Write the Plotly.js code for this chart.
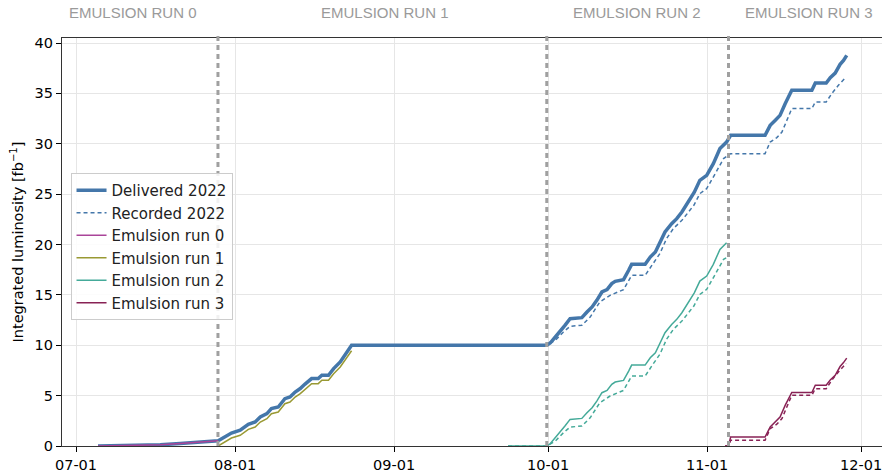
<!DOCTYPE html>
<html>
<head>
<meta charset="utf-8">
<script src="https://cdn.plot.ly/plotly-3.0.1.min.js"></script>
<style>html,body{margin:0;padding:0;background:#fff;}#chart{width:882px;height:474px;}</style>
</head>
<body>
<div id="chart"></div>
<script>
// ---- Delivered 2022 (fb^-1) ----
const deliveredDates = [
  '2022-07-05 07:00','2022-07-09 14:00','2022-07-14 00:00','2022-07-17 10:00','2022-07-21 07:00','2022-07-24 05:00','2022-07-26 02:00','2022-07-28 17:00',
  '2022-07-31 07:00','2022-08-02 00:00','2022-08-03 14:00','2022-08-04 22:00','2022-08-05 22:00','2022-08-07 05:00','2022-08-08 02:00','2022-08-09 10:00',
  '2022-08-10 17:00','2022-08-11 17:00','2022-08-12 17:00','2022-08-13 17:00','2022-08-14 14:00','2022-08-15 22:00','2022-08-17 05:00','2022-08-17 22:00',
  '2022-08-19 05:00','2022-08-20 05:00','2022-08-21 12:00','2022-08-22 19:00','2022-08-23 17:00',
  '2022-09-30 18:00','2022-10-01 10:00','2022-10-02 10:00','2022-10-03 07:00','2022-10-04 07:00','2022-10-05 07:00','2022-10-07 14:00','2022-10-08 14:00',
  '2022-10-09 14:00','2022-10-10 12:00','2022-10-11 12:00','2022-10-12 12:00','2022-10-13 10:00','2022-10-14 02:00','2022-10-15 17:00','2022-10-16 17:00',
  '2022-10-17 07:00','2022-10-19 22:00','2022-10-20 22:00','2022-10-21 22:00','2022-10-22 19:00','2022-10-23 19:00','2022-10-25 02:00','2022-10-26 02:00',
  '2022-10-27 02:00','2022-10-28 10:00','2022-10-29 12:00','2022-10-30 14:00','2022-10-31 22:00','2022-11-02 05:00','2022-11-03 12:00','2022-11-04 19:00',
  '2022-11-05 14:00','2022-11-12 07:00','2022-11-13 07:00','2022-11-14 07:00','2022-11-15 05:00','2022-11-16 05:00','2022-11-17 12:00','2022-11-21 10:00',
  '2022-11-22 02:00','2022-11-24 05:00','2022-11-25 00:00','2022-11-25 23:00','2022-11-26 22:00','2022-11-27 14:00','2022-11-28 05:00'
];
const deliveredValues = [
  0, 0.02, 0.05, 0.12, 0.25, 0.38, 0.47, 0.53,
  1.29, 1.56, 2.15, 2.38, 2.88, 3.21, 3.71, 3.87,
  4.70, 4.86, 5.36, 5.70, 6.12, 6.69, 6.69, 7.02,
  7.02, 7.68, 8.34, 9.33, 10.0,
  10.0, 10.22, 10.82, 11.32, 11.98, 12.64, 12.74, 13.30,
  13.80, 14.46, 15.29, 15.52, 16.12, 16.35, 16.51, 17.44,
  18.03, 18.03, 18.76, 19.26, 20.25, 21.24, 22.07, 22.57,
  23.23, 24.39, 25.2, 26.37, 26.87, 28.03, 29.52, 30.17,
  30.84, 30.84, 31.83, 32.33, 32.82, 33.98, 35.31, 35.31,
  36.03, 36.03, 36.56, 37.02, 37.89, 38.28, 38.78
];

// ---- Recorded 2022 (fb^-1) ----
const recordedDates = [
  '2022-07-05 07:00','2022-07-09 14:00','2022-07-14 00:00','2022-07-17 10:00','2022-07-21 07:00','2022-07-24 05:00','2022-07-26 02:00','2022-07-28 17:00',
  '2022-07-31 07:00','2022-08-02 00:00','2022-08-03 14:00','2022-08-04 22:00','2022-08-05 22:00','2022-08-07 05:00','2022-08-08 02:00','2022-08-09 10:00',
  '2022-08-10 17:00','2022-08-11 17:00','2022-08-12 17:00','2022-08-13 17:00','2022-08-14 14:00','2022-08-15 22:00','2022-08-17 05:00','2022-08-17 22:00',
  '2022-08-19 05:00','2022-08-20 05:00','2022-08-21 12:00','2022-08-22 19:00','2022-08-23 17:00',
  '2022-09-30 18:00','2022-10-02 10:00','2022-10-04 00:00','2022-10-05 07:00','2022-10-07 14:00','2022-10-09 05:00','2022-10-11 02:00','2022-10-13 02:00',
  '2022-10-15 17:00','2022-10-17 07:00','2022-10-19 22:00','2022-10-21 05:00','2022-10-22 19:00','2022-10-24 02:00','2022-10-25 10:00','2022-10-27 02:00',
  '2022-10-29 10:00','2022-10-30 14:00','2022-10-31 22:00','2022-11-02 14:00','2022-11-04 05:00','2022-11-05 14:00','2022-11-12 07:00','2022-11-13 07:00',
  '2022-11-14 14:00','2022-11-15 14:00','2022-11-17 12:00','2022-11-21 10:00','2022-11-22 02:00','2022-11-24 05:00','2022-11-25 07:00','2022-11-26 14:00',
  '2022-11-28 02:00'
];
const recordedValues = [
  0, 0.02, 0.05, 0.12, 0.25, 0.38, 0.47, 0.53,
  1.29, 1.56, 2.15, 2.38, 2.88, 3.21, 3.71, 3.87,
  4.70, 4.86, 5.36, 5.70, 6.12, 6.69, 6.69, 7.02,
  7.02, 7.68, 8.34, 9.33, 10.0,
  10.0, 10.49, 11.32, 11.88, 11.98, 12.80, 14.29, 14.96,
  15.52, 16.94, 16.94, 17.94, 19.10, 20.58, 21.58, 22.40,
  23.9, 25.05, 25.55, 27.04, 28.53, 29.02, 29.02, 30.17,
  30.61, 31.17, 33.49, 33.49, 34.14, 34.14, 34.98, 35.80,
  36.63
];

// ---- Emulsion run 0 ----
const run0Dates = ['2022-07-05 07:00','2022-07-09 14:00','2022-07-14 00:00','2022-07-17 10:00','2022-07-21 07:00','2022-07-24 05:00','2022-07-26 02:00','2022-07-28 17:00'];
const run0Values = [0, 0.02, 0.05, 0.12, 0.25, 0.38, 0.47, 0.53];

// ---- Emulsion run 1 ----
const run1Dates = [
  '2022-07-28 17:00','2022-07-31 07:00','2022-08-02 00:00','2022-08-03 14:00','2022-08-04 22:00','2022-08-05 22:00','2022-08-07 05:00','2022-08-08 02:00',
  '2022-08-09 10:00','2022-08-10 17:00','2022-08-11 17:00','2022-08-12 17:00','2022-08-13 17:00','2022-08-14 14:00','2022-08-15 22:00','2022-08-17 05:00',
  '2022-08-17 22:00','2022-08-19 05:00','2022-08-20 05:00','2022-08-21 12:00','2022-08-22 19:00','2022-08-23 17:00'
];
const run1Values = [0, 0.79, 1.06, 1.65, 1.88, 2.38, 2.71, 3.21, 3.37, 4.20, 4.36, 4.86, 5.20, 5.62, 6.19, 6.19, 6.52, 6.52, 7.18, 7.84, 8.83, 9.45];

// ---- Emulsion run 2 (delivered / recorded) ----
const run2Dates = [
  '2022-09-23 05:00','2022-09-30 18:00','2022-10-01 10:00','2022-10-02 10:00','2022-10-03 07:00','2022-10-04 07:00','2022-10-05 07:00','2022-10-07 14:00',
  '2022-10-08 14:00','2022-10-09 14:00','2022-10-10 12:00','2022-10-11 12:00','2022-10-12 12:00','2022-10-13 10:00','2022-10-14 02:00','2022-10-15 17:00',
  '2022-10-16 17:00','2022-10-17 07:00','2022-10-19 22:00','2022-10-20 22:00','2022-10-21 22:00','2022-10-22 19:00','2022-10-23 19:00','2022-10-25 02:00',
  '2022-10-26 02:00','2022-10-27 02:00','2022-10-28 10:00','2022-10-29 12:00','2022-10-30 14:00','2022-10-31 22:00','2022-11-02 05:00','2022-11-03 12:00',
  '2022-11-04 19:00'
];
const run2Values = [
  0, 0, 0.22, 0.82, 1.32, 1.98, 2.64, 2.74, 3.30, 3.80, 4.46, 5.29, 5.52, 6.12, 6.35, 6.51,
  7.44, 8.03, 8.03, 8.76, 9.26, 10.25, 11.24, 12.07, 12.57, 13.23, 14.39, 15.2, 16.37, 16.87, 18.03, 19.52,
  20.17
];
const run2RecDates = [
  '2022-09-23 05:00','2022-09-30 18:00','2022-10-02 10:00','2022-10-04 00:00','2022-10-05 07:00','2022-10-07 14:00','2022-10-09 05:00','2022-10-11 02:00',
  '2022-10-13 02:00','2022-10-15 17:00','2022-10-17 07:00','2022-10-19 22:00','2022-10-21 05:00','2022-10-22 19:00','2022-10-24 02:00','2022-10-25 10:00',
  '2022-10-27 02:00','2022-10-29 10:00','2022-10-30 14:00','2022-10-31 22:00','2022-11-02 14:00','2022-11-04 05:00','2022-11-04 19:00'
];
const run2RecValues = [0, 0, 0.49, 1.32, 1.88, 1.98, 2.80, 4.29, 4.96, 5.52, 6.94, 6.94, 7.94, 9.10, 10.58, 11.58, 12.40, 13.9, 15.05, 15.55, 17.04, 18.53, 18.7];

// ---- Emulsion run 3 (delivered / recorded) ----
const run3Dates = [
  '2022-11-04 12:00','2022-11-05 04:00','2022-11-05 14:00','2022-11-12 07:00','2022-11-13 07:00','2022-11-14 07:00','2022-11-15 05:00','2022-11-16 05:00',
  '2022-11-17 12:00','2022-11-21 10:00','2022-11-22 02:00','2022-11-24 05:00','2022-11-25 00:00','2022-11-25 23:00','2022-11-26 22:00','2022-11-27 14:00',
  '2022-11-28 05:00'
];
const run3Values = [0, 0, 0.89, 0.89, 1.88, 2.38, 2.87, 4.03, 5.31, 5.31, 6.03, 6.03, 6.56, 7.02, 7.89, 8.28, 8.72];
const run3RecDates = [
  '2022-11-04 12:00','2022-11-05 04:00','2022-11-05 14:00','2022-11-12 07:00','2022-11-13 07:00','2022-11-14 14:00','2022-11-15 14:00','2022-11-17 12:00',
  '2022-11-21 10:00','2022-11-22 02:00','2022-11-24 05:00','2022-11-25 07:00','2022-11-26 14:00','2022-11-28 02:00'
];
const run3RecValues = [0, 0, 0.57, 0.57, 1.72, 2.16, 2.72, 5.04, 5.04, 5.69, 5.69, 6.53, 7.35, 8.18];

// ---- Run boundaries and labels ----
const runBoundaries = ['2022-07-28 16:00', '2022-09-30 18:00', '2022-11-05 04:00'];
const runLabels = ['EMULSION RUN 0', 'EMULSION RUN 1', 'EMULSION RUN 2', 'EMULSION RUN 3'];
const runLabelDates = ['2022-07-12 02:00', '2022-08-30 05:00', '2022-10-18 10:00', '2022-11-20 20:00'];
const legendNames = ['Delivered 2022', 'Recorded 2022', 'Emulsion run 0', 'Emulsion run 1', 'Emulsion run 2', 'Emulsion run 3'];

const BLUE = '#4477AA', PURPLE = '#AA4499', OLIVE = '#999933', TEAL = '#44AA99', WINE = '#882255';
const FONT = 'DejaVu Sans, sans-serif';

const traces = [
  {x: deliveredDates, y: deliveredValues, name: legendNames[0], legendgroup: 'g0', mode: 'lines', line: {color: BLUE, width: 3.5}},
  {x: recordedDates, y: recordedValues, name: legendNames[1], legendgroup: 'g1', mode: 'lines', line: {color: BLUE, width: 1.5, dash: '4px,3px'}},
  {x: run0Dates, y: run0Values, name: legendNames[2], legendgroup: 'g2', mode: 'lines', line: {color: PURPLE, width: 1.5}},
  {x: run1Dates, y: run1Values, name: legendNames[3], legendgroup: 'g3', mode: 'lines', line: {color: OLIVE, width: 1.5}},
  {x: run2Dates, y: run2Values, name: legendNames[4], legendgroup: 'g4', mode: 'lines', line: {color: TEAL, width: 1.5}},
  {x: run2RecDates, y: run2RecValues, name: legendNames[4], legendgroup: 'g4', showlegend: false, mode: 'lines', line: {color: TEAL, width: 1.5, dash: '4px,3px'}},
  {x: run3Dates, y: run3Values, name: legendNames[5], legendgroup: 'g5', mode: 'lines', line: {color: WINE, width: 1.5}},
  {x: run3RecDates, y: run3RecValues, name: legendNames[5], legendgroup: 'g5', showlegend: false, mode: 'lines', line: {color: WINE, width: 1.5, dash: '4px,3px'}}
];

const shapes = runBoundaries.map(d => ({
  type: 'line', xref: 'x', yref: 'paper', x0: d, x1: d, y0: 0, y1: 1.01,
  line: {color: '#a0a0a0', width: 3, dash: '5px,4px'}, layer: 'above'
}));

const annotations = runLabels.map((t, i) => ({
  text: t, xref: 'x', yref: 'paper', x: runLabelDates[i], y: 1.062,
  xanchor: 'center', yanchor: 'middle', showarrow: false,
  font: {family: 'Liberation Sans, Arial, sans-serif', size: 15, color: '#9a9a9a'}
}));

const layout = {
  width: 882, height: 474,
  margin: {l: 62, r: 0, t: 38, b: 28, pad: 0},
  paper_bgcolor: '#ffffff', plot_bgcolor: '#ffffff',
  font: {family: FONT, size: 14, color: '#000'},
  showlegend: true,
  xaxis: {
    type: 'date', range: ['2022-06-28 06:30', '2022-12-05 02:00'],
    tick0: '2022-07-01', dtick: 'M1', tickformat: '%m-%d',
    showgrid: true, gridcolor: '#e6e6e6', gridwidth: 1,
    showline: true, linecolor: '#333', linewidth: 1.2, mirror: true,
    ticks: 'outside', ticklen: 5, tickcolor: '#000', tickwidth: 1,
    ticklabeloverflow: 'allow',
    tickfont: {family: FONT, size: 14.5, color: '#000'}, zeroline: false
  },
  yaxis: {
    range: [0, 40.5], tick0: 0, dtick: 5,
    showgrid: true, gridcolor: '#e6e6e6', gridwidth: 1,
    showline: true, linecolor: '#333', linewidth: 1.2, mirror: false,
    ticks: 'outside', ticklen: 5, tickcolor: '#000', tickwidth: 1,
    tickfont: {family: FONT, size: 14.5, color: '#000'}, zeroline: false,
    title: {text: 'Integrated luminosity [fb<sup>−1</sup>]', font: {family: FONT, size: 14.5, color: '#000'}, standoff: 7}
  },
  legend: {
    x: 0.0104, y: 0.669, xanchor: 'left', yanchor: 'top',
    bgcolor: 'rgba(255,255,255,0.85)', bordercolor: '#cccccc', borderwidth: 1,
    font: {family: FONT, size: 15, color: '#222'},
    itemwidth: 30, tracegroupgap: 0
  },
  shapes: shapes,
  annotations: annotations
};

Plotly.newPlot('chart', traces, layout, {displayModeBar: false, staticPlot: true});
</script>
</body>
</html>
